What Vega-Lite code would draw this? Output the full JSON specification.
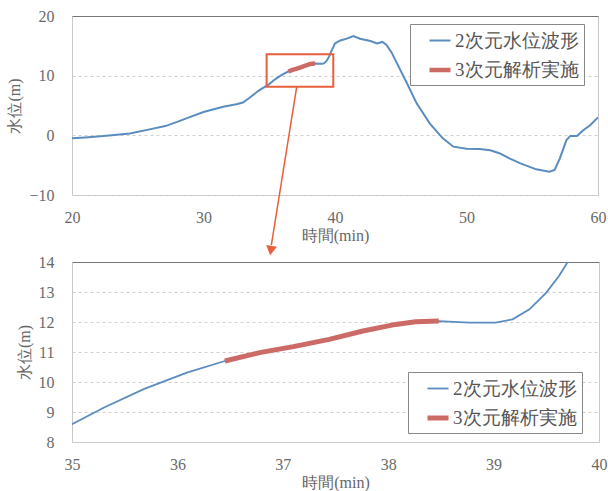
{
  "$schema": "https://vega.github.io/schema/vega-lite/v6.json",
  "background": "white",
  "padding": {"left": 6, "top": 7, "right": 4, "bottom": 4},
  "bounds": "flush",
  "spacing": 67,
  "datasets": {
    "lines": [
      {"s": "2次元水位波形", "t": 20, "h": -0.5},
      {"s": "2次元水位波形", "t": 21, "h": -0.35},
      {"s": "2次元水位波形", "t": 22.4, "h": -0.1},
      {"s": "2次元水位波形", "t": 24.4, "h": 0.3},
      {"s": "2次元水位波形", "t": 25.9, "h": 1.0},
      {"s": "2次元水位波形", "t": 27.1, "h": 1.55},
      {"s": "2次元水位波形", "t": 28.0, "h": 2.25},
      {"s": "2次元水位波形", "t": 29.0, "h": 3.1},
      {"s": "2次元水位波形", "t": 30.0, "h": 3.9},
      {"s": "2次元水位波形", "t": 31.5, "h": 4.8},
      {"s": "2次元水位波形", "t": 32.5, "h": 5.2},
      {"s": "2次元水位波形", "t": 33.0, "h": 5.5},
      {"s": "2次元水位波形", "t": 33.5, "h": 6.3},
      {"s": "2次元水位波形", "t": 34.2, "h": 7.5},
      {"s": "2次元水位波形", "t": 35.0, "h": 8.59},
      {"s": "2次元水位波形", "t": 35.3, "h": 9.14},
      {"s": "2次元水位波形", "t": 35.68, "h": 9.76},
      {"s": "2次元水位波形", "t": 36.09, "h": 10.31},
      {"s": "2次元水位波形", "t": 36.45, "h": 10.7},
      {"s": "2次元水位波形", "t": 36.78, "h": 10.98},
      {"s": "2次元水位波形", "t": 37.1, "h": 11.18},
      {"s": "2次元水位波形", "t": 37.44, "h": 11.42},
      {"s": "2次元水位波形", "t": 37.76, "h": 11.7},
      {"s": "2次元水位波形", "t": 38.07, "h": 11.92},
      {"s": "2次元水位波形", "t": 38.26, "h": 12.01},
      {"s": "2次元水位波形", "t": 38.48, "h": 12.03},
      {"s": "2次元水位波形", "t": 38.77, "h": 11.98},
      {"s": "2次元水位波形", "t": 39.02, "h": 11.98},
      {"s": "2次元水位波形", "t": 39.18, "h": 12.09},
      {"s": "2次元水位波形", "t": 39.34, "h": 12.42},
      {"s": "2次元水位波形", "t": 39.5, "h": 12.98},
      {"s": "2次元水位波形", "t": 39.62, "h": 13.53},
      {"s": "2次元水位波形", "t": 39.7, "h": 13.98},
      {"s": "2次元水位波形", "t": 40.0, "h": 15.4},
      {"s": "2次元水位波形", "t": 40.4, "h": 15.9},
      {"s": "2次元水位波形", "t": 40.9, "h": 16.2},
      {"s": "2次元水位波形", "t": 41.4, "h": 16.65},
      {"s": "2次元水位波形", "t": 41.9, "h": 16.2},
      {"s": "2次元水位波形", "t": 42.7, "h": 15.8},
      {"s": "2次元水位波形", "t": 43.2, "h": 15.4},
      {"s": "2次元水位波形", "t": 43.6, "h": 15.65},
      {"s": "2次元水位波形", "t": 43.9, "h": 15.2},
      {"s": "2次元水位波形", "t": 44.3, "h": 13.9},
      {"s": "2次元水位波形", "t": 45.0, "h": 10.8},
      {"s": "2次元水位波形", "t": 45.5, "h": 8.6},
      {"s": "2次元水位波形", "t": 46.2, "h": 5.4},
      {"s": "2次元水位波形", "t": 47.2, "h": 2.0},
      {"s": "2次元水位波形", "t": 48.2, "h": -0.5},
      {"s": "2次元水位波形", "t": 49.0, "h": -1.9},
      {"s": "2次元水位波形", "t": 50.0, "h": -2.25},
      {"s": "2次元水位波形", "t": 51.0, "h": -2.3},
      {"s": "2次元水位波形", "t": 51.8, "h": -2.5},
      {"s": "2次元水位波形", "t": 52.5, "h": -3.0},
      {"s": "2次元水位波形", "t": 53.3, "h": -3.9},
      {"s": "2次元水位波形", "t": 54.1, "h": -4.7},
      {"s": "2次元水位波形", "t": 55.3, "h": -5.7},
      {"s": "2次元水位波形", "t": 56.3, "h": -6.1},
      {"s": "2次元水位波形", "t": 56.7, "h": -5.8},
      {"s": "2次元水位波形", "t": 57.1, "h": -3.85},
      {"s": "2次元水位波形", "t": 57.6, "h": -0.8},
      {"s": "2次元水位波形", "t": 57.9, "h": -0.1},
      {"s": "2次元水位波形", "t": 58.4, "h": -0.1},
      {"s": "2次元水位波形", "t": 58.9, "h": 0.9},
      {"s": "2次元水位波形", "t": 59.4, "h": 1.7},
      {"s": "2次元水位波形", "t": 60.0, "h": 3.0},
      {"s": "3次元解析実施", "t": 36.45, "h": 10.7},
      {"s": "3次元解析実施", "t": 36.78, "h": 10.98},
      {"s": "3次元解析実施", "t": 37.1, "h": 11.18},
      {"s": "3次元解析実施", "t": 37.44, "h": 11.42},
      {"s": "3次元解析実施", "t": 37.76, "h": 11.7},
      {"s": "3次元解析実施", "t": 38.07, "h": 11.92},
      {"s": "3次元解析実施", "t": 38.26, "h": 12.01},
      {"s": "3次元解析実施", "t": 38.48, "h": 12.03}
    ],
    "box": [{"t": 34.8, "t2": 39.87, "h": 8.15, "h2": 13.6}],
    "arrow": [{"t": 37.09, "h": 8.15, "t2": 35.16, "h2": -18.4}],
    "head": [{"t": 35.12, "h": -19.3}]
  },
  "config": {
    "font": "Liberation Serif",
    "view": {"stroke": "#c8c8c8", "strokeWidth": 1},
    "axis": {
      "domain": false,
      "ticks": false,
      "labelFont": "Liberation Serif",
      "labelFontSize": 16,
      "labelColor": "#6a6a6a",
      "labelFlush": false,
      "labelOverlap": false,
      "titleFont": "Liberation Serif",
      "titleFontSize": 16,
      "titleFontWeight": "normal",
      "titleColor": "#666666"
    },
    "axisX": {"grid": false, "labelPadding": 14, "titlePadding": 2},
    "axisY": {
      "grid": true,
      "gridColor": {"condition": {"test": "datum.value == 20 || datum.value == 14", "value": "#777777"}, "value": "#d0d0d0"},
      "gridDash": {"condition": {"test": "datum.value == 20 || datum.value == 14", "value": []}, "value": [3, 3]},
      "labelPadding": 18,
      "titlePadding": 6
    },
    "legend": {
      "orient": "none",
      "title": null,
      "labelFont": "Liberation Serif",
      "labelFontSize": 19,
      "labelColor": "#555555",
      "symbolType": "stroke",
      "symbolSize": 441,
      "symbolOffset": 12,
      "labelOffset": 2,
      "rowPadding": 6,
      "padding": 5,
      "strokeColor": "#888888",
      "fillColor": "white"
    }
  },
  "resolve": {
    "scale": {"x": "independent", "y": "independent", "color": "independent", "strokeWidth": "independent"},
    "legend": {"color": "independent", "strokeWidth": "independent"}
  },
  "vconcat": [
    {
      "width": 526,
      "height": 179,
      "layer": [
        {
          "data": {"name": "lines"},
          "mark": {"type": "line", "clip": true},
          "encoding": {
            "x": {"field": "t", "type": "quantitative", "scale": {"domain": [20, 60], "nice": false, "zero": false}, "axis": {"values": [20, 30, 40, 50, 60], "title": "時間(min)"}},
            "y": {"field": "h", "type": "quantitative", "scale": {"domain": [-10, 20], "nice": false, "zero": false}, "axis": {"values": [-10, -5, 0, 5, 10, 15, 20], "title": "水位(m)"}},
            "color": {"field": "s", "type": "nominal", "scale": {"domain": ["2次元水位波形", "3次元解析実施"], "range": ["#5a8cbf", "#cc6a66"]}, "legend": {"legendX": 338, "legendY": 8}},
            "strokeWidth": {"field": "s", "type": "nominal", "scale": {"domain": ["2次元水位波形", "3次元解析実施"], "range": [2, 4.5]}, "legend": {"legendX": 338, "legendY": 8}}
          }
        },
        {
          "data": {"name": "box"},
          "mark": {"type": "rect", "fillOpacity": 0, "stroke": "#e6603c", "strokeWidth": 2, "clip": false},
          "encoding": {
            "x": {"field": "t", "type": "quantitative"},
            "x2": {"field": "t2"},
            "y": {"field": "h", "type": "quantitative"},
            "y2": {"field": "h2"}
          }
        },
        {
          "data": {"name": "arrow"},
          "mark": {"type": "rule", "color": "#e6603c", "strokeWidth": 1.5, "clip": false},
          "encoding": {
            "x": {"field": "t", "type": "quantitative"},
            "x2": {"field": "t2"},
            "y": {"field": "h", "type": "quantitative"},
            "y2": {"field": "h2"}
          }
        },
        {
          "data": {"name": "head"},
          "mark": {"type": "point", "shape": "triangle-down", "filled": true, "color": "#e6603c", "opacity": 1, "size": 120, "angle": 9, "clip": false},
          "encoding": {
            "x": {"field": "t", "type": "quantitative"},
            "y": {"field": "h", "type": "quantitative"}
          }
        }
      ]
    },
    {
      "width": 527,
      "height": 180,
      "data": {"name": "lines"},
      "transform": [{"filter": "datum.t >= 35 && datum.t <= 40.1"}],
      "mark": {"type": "line", "clip": true},
      "encoding": {
        "x": {"field": "t", "type": "quantitative", "scale": {"domain": [35, 40], "nice": false, "zero": false}, "axis": {"values": [35, 36, 37, 38, 39, 40], "title": "時間(min)"}},
        "y": {"field": "h", "type": "quantitative", "scale": {"domain": [8, 14], "nice": false, "zero": false}, "axis": {"values": [8, 9, 10, 11, 12, 13, 14], "title": "水位(m)"}},
        "color": {"field": "s", "type": "nominal", "scale": {"domain": ["2次元水位波形", "3次元解析実施"], "range": ["#5a8cbf", "#cc6a66"]}, "legend": {"legendX": 336, "legendY": 110}},
        "strokeWidth": {"field": "s", "type": "nominal", "scale": {"domain": ["2次元水位波形", "3次元解析実施"], "range": [1.8, 5]}, "legend": {"legendX": 336, "legendY": 110}}
      }
    }
  ]
}
